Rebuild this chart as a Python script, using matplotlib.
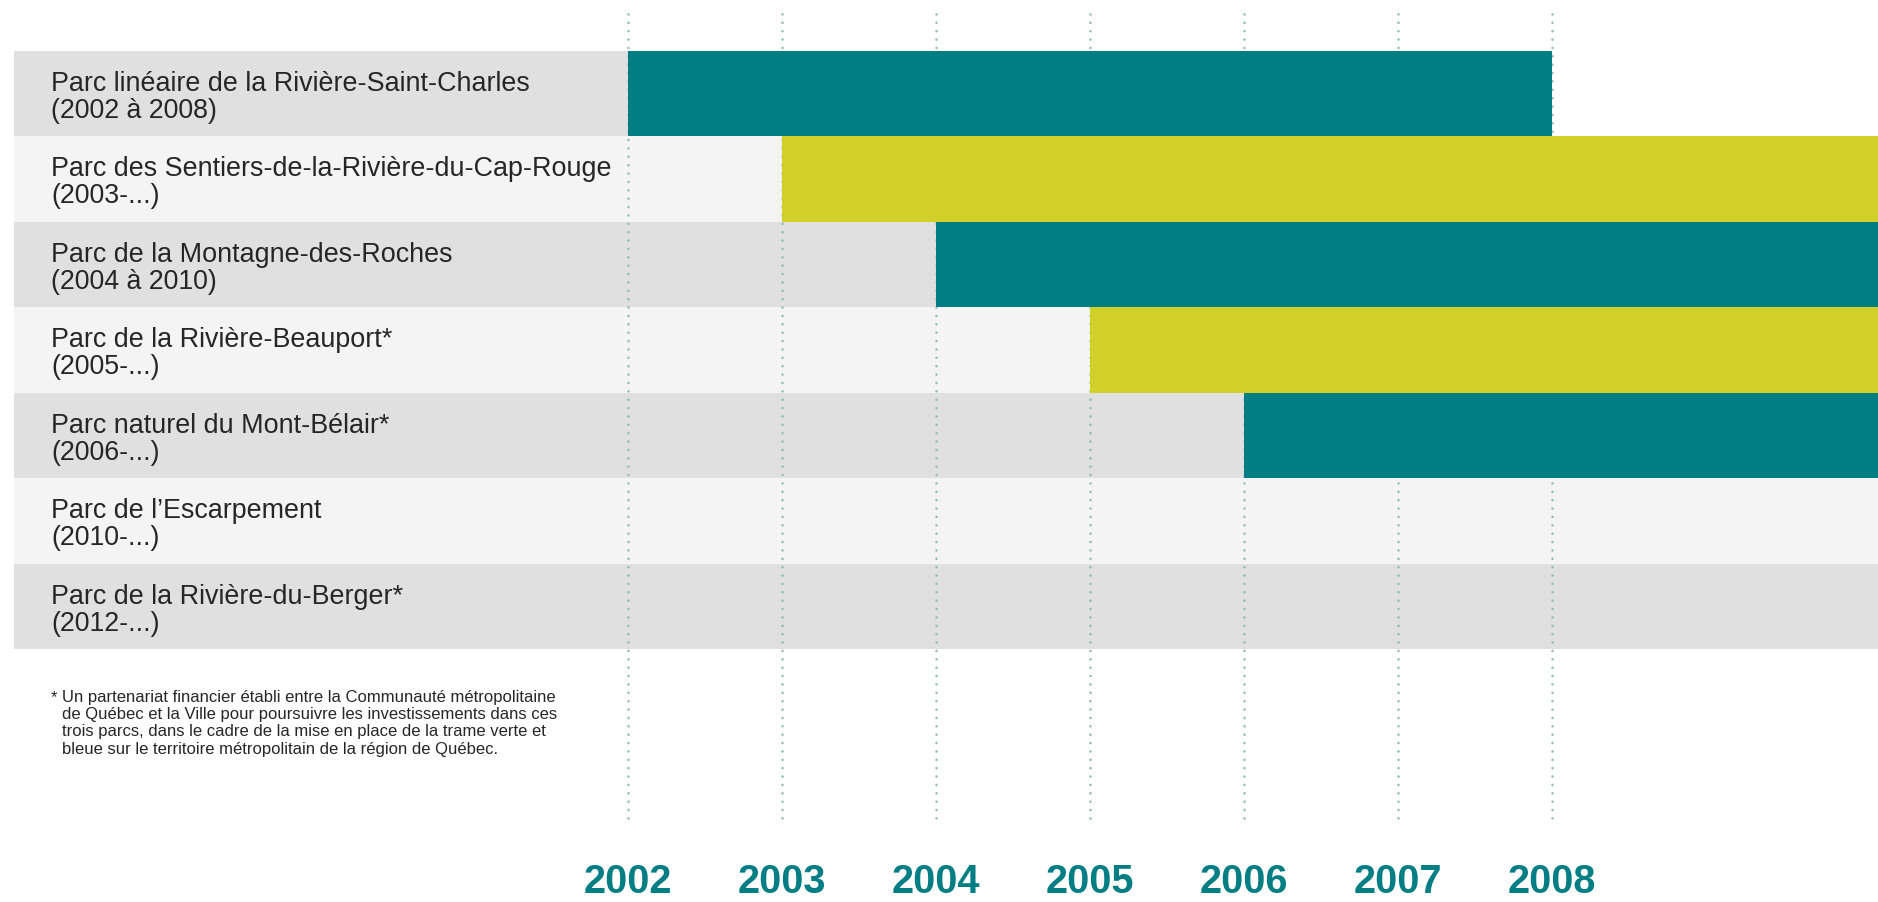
import matplotlib
matplotlib.use("Agg")
import matplotlib.pyplot as plt
from matplotlib.patches import Rectangle

# ---------------- data ----------------
park_names = [
    "Parc linéaire de la Rivière-Saint-Charles",
    "Parc des Sentiers-de-la-Rivière-du-Cap-Rouge",
    "Parc de la Montagne-des-Roches",
    "Parc de la Rivière-Beauport*",
    "Parc naturel du Mont-Bélair*",
    "Parc de l\u2019Escarpement",
    "Parc de la Rivière-du-Berger*",
]
park_periods = [
    "(2002 à 2008)",
    "(2003-...)",
    "(2004 à 2010)",
    "(2005-...)",
    "(2006-...)",
    "(2010-...)",
    "(2012-...)",
]
# bars as drawn in the picture (rows 0..4); None = runs past the right edge
bar_start = [2002, 2003, 2004, 2005, 2006]
bar_end = [2008, None, None, None, None]
year_ticks = [2002, 2003, 2004, 2005, 2006, 2007, 2008]

footnote_lines = [
    "Un partenariat financier établi entre la Communauté métropolitaine",
    "de Québec et la Ville pour poursuivre les investissements dans ces",
    "trois parcs, dans le cadre de la mise en place de la trame verte et",
    "bleue sur le territoire métropolitain de la région de Québec.",
]

# ---------------- style ----------------
TEAL = "#007e83"
LIME = "#d0d028"
BG_DARK = "#e0e0e0"
BG_LIGHT = "#f4f4f4"
DOT = "#8fb9bd"
TXT = "#262626"
bar_colors = [TEAL, LIME, TEAL, LIME, TEAL]
FONT = "Liberation Sans"

W, H = 1878, 902
fig = plt.figure(figsize=(W / 100, H / 100), dpi=100)
fig.patch.set_facecolor("white")

ax_left, ax_right = 14, 1878
ax_top, ax_bot = 51, 649
ax = fig.add_axes([ax_left / W, 1 - ax_bot / H, (ax_right - ax_left) / W, (ax_bot - ax_top) / H])
px_per_year = 154.0
x0_px = 628
xmin = 2002 - (x0_px - ax_left) / px_per_year
xmax = 2002 + (ax_right - x0_px) / px_per_year
n = len(park_names)
ax.set_xlim(xmin, xmax)
ax.set_ylim(n, 0)
ax.axis("off")

# row backgrounds
for i in range(n):
    col = BG_DARK if i % 2 == 0 else BG_LIGHT
    end = bar_start[i] if i < len(bar_start) else xmax
    ax.add_patch(Rectangle((xmin, i), end - xmin, 1, facecolor=col, edgecolor="none", zorder=1))

# dotted year lines (extend above and below rows)
ax_h = ax_bot - ax_top
y_lo = (ax_bot - 818) / ax_h
y_hi = (ax_bot - 12) / ax_h
lc = ax.vlines(year_ticks, y_lo, y_hi, transform=ax.get_xaxis_transform(), colors=DOT,
               linewidth=1.8, linestyles=(0, (0.05, 3.3)), clip_on=False, zorder=2)
lc.set_capstyle("round")

# bars
for i, (s, e) in enumerate(zip(bar_start, bar_end)):
    e2 = xmax + 1 if e is None else e
    ax.barh(i + 0.5, e2 - s, left=s, height=1.0, color=bar_colors[i], edgecolor="none", zorder=3)

# labels
lx = (51 - ax_left) / (ax_right - ax_left)
for i in range(n):
    ax.text(lx, i + 40 / 85.4, park_names[i], transform=ax.get_yaxis_transform(),
            fontsize=19.4, family=FONT, color=TXT, va="baseline", ha="left", zorder=4)
    ax.text(lx, i + 67 / 85.4, park_periods[i], transform=ax.get_yaxis_transform(),
            fontsize=19.3, family=FONT, color=TXT, va="baseline", ha="left", zorder=4)

# year labels
y_lab = (ax_bot - 893) / ax_h
for yr in year_ticks:
    ax.text(yr, y_lab, str(yr), transform=ax.get_xaxis_transform(), ha="center", va="baseline",
            fontsize=28.5, fontweight="bold", family=FONT, color=TEAL, clip_on=False)

# footnote
fb = 702
fig.text(51 / W, 1 - fb / H, "*", fontsize=12, family=FONT, color=TXT, va="baseline", ha="left")
for k, line in enumerate(footnote_lines):
    fig.text(62 / W, 1 - (fb + 17.2 * k) / H, line, fontsize=12, family=FONT, color=TXT,
             va="baseline", ha="left")

fig.savefig("out.png", dpi=100, facecolor="white")
